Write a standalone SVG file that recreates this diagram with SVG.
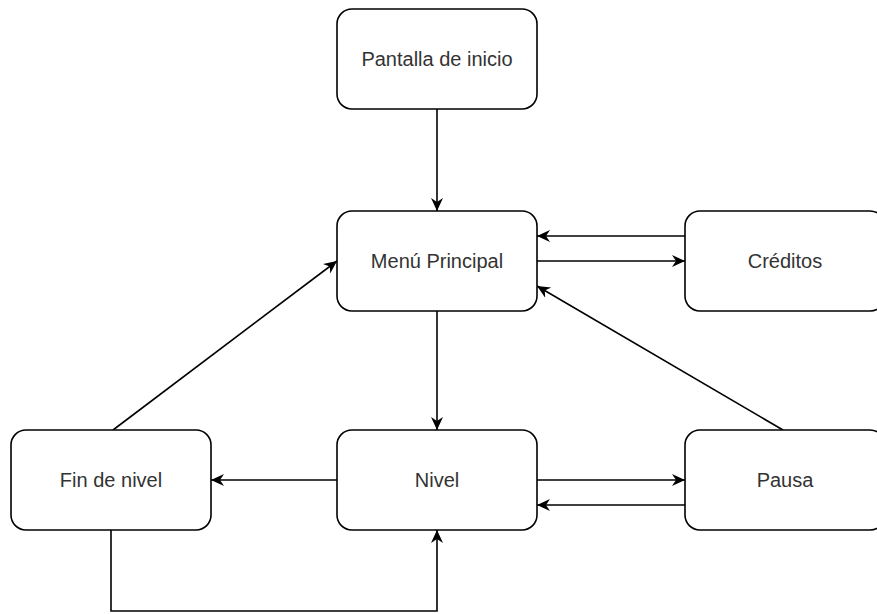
<svg xmlns="http://www.w3.org/2000/svg" width="877" height="614" viewBox="0 0 877 614">
  <style>
    .box { fill: #ffffff; stroke: #000000; stroke-width: 1.6; }
    .lbl { font-family: "Liberation Sans", Arial, sans-serif; font-size: 20px; fill: #333333; text-anchor: middle; }
    .edge { fill: none; stroke: #000000; stroke-width: 1.6; marker-end: url(#arrow); }
  </style>
  <defs>
    <marker id="arrow" markerUnits="userSpaceOnUse" viewBox="0 0 14 14" refX="13" refY="7" markerWidth="14" markerHeight="14" orient="auto">
      <path d="M0,1 L13,7 L0,13 L4,7 z" fill="#000000"/>
    </marker>
  </defs>
  <rect width="877" height="614" fill="#ffffff"/>

  <g id="connectors">
    <path class="edge" d="M437,109 L437,211"/>
    <path class="edge" d="M537,261 L685,261"/>
    <path class="edge" d="M685,236 L537,236"/>
    <path class="edge" d="M437,311 L437,430"/>
    <path class="edge" d="M537,480 L685,480"/>
    <path class="edge" d="M685,505 L537,505"/>
    <path class="edge" d="M337,480 L211,480"/>
    <path class="edge" d="M111,530 L111,611 L437,611 L437,530"/>
    <path class="edge" d="M113,430 L337,261"/>
    <path class="edge" d="M783,430 L537,286"/>
  </g>

  <g id="pantalla-inicio">
    <rect class="box" x="337" y="9" width="200" height="100" rx="15" ry="15"/>
    <text class="lbl" x="437" y="66">Pantalla de inicio</text>
  </g>
  <g id="menu-principal">
    <rect class="box" x="337" y="211" width="200" height="100" rx="15" ry="15"/>
    <text class="lbl" x="437" y="268">Menú Principal</text>
  </g>
  <g id="creditos">
    <rect class="box" x="685" y="211" width="200" height="100" rx="15" ry="15"/>
    <text class="lbl" x="785" y="268">Créditos</text>
  </g>
  <g id="fin-de-nivel">
    <rect class="box" x="11" y="430" width="200" height="100" rx="15" ry="15"/>
    <text class="lbl" x="111" y="487">Fin de nivel</text>
  </g>
  <g id="nivel">
    <rect class="box" x="337" y="430" width="200" height="100" rx="15" ry="15"/>
    <text class="lbl" x="437" y="487">Nivel</text>
  </g>
  <g id="pausa">
    <rect class="box" x="685" y="430" width="200" height="100" rx="15" ry="15"/>
    <text class="lbl" x="785" y="487">Pausa</text>
  </g>
</svg>
